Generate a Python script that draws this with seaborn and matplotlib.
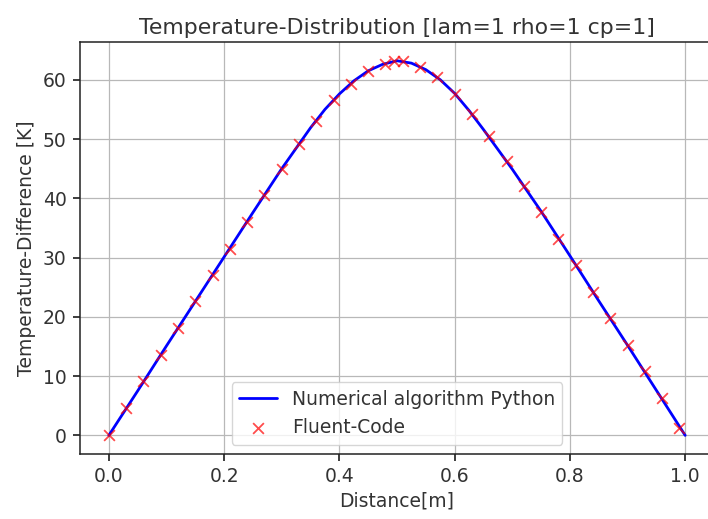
import numpy as np
import pandas as pd
import seaborn as sns
import matplotlib
matplotlib.use("Agg")
import matplotlib.pyplot as plt

# numerical solution (python)
lineX = [0.0, 0.05, 0.10, 0.15, 0.20, 0.25, 0.30, 0.35, 0.375, 0.40, 0.425, 0.45,
         0.475, 0.50, 0.525, 0.55, 0.575, 0.60, 0.625, 0.65, 0.70, 0.75, 0.80,
         0.85, 0.90, 0.95, 1.0]
lineT = [0.0, 7.5, 15.1, 22.6, 30.1, 37.6, 45.0, 51.9, 55.0, 57.6, 59.8, 61.5,
         62.6, 63.2, 62.8, 61.7, 60.0, 57.7, 54.8, 51.6, 44.9, 37.8, 30.3,
         22.7, 15.2, 7.6, 0.0]

# fluent reference points
fluentX = [0.0, 0.03, 0.06, 0.09, 0.12, 0.15, 0.18, 0.21, 0.24, 0.27, 0.30, 0.33,
           0.36, 0.39, 0.42, 0.45, 0.48, 0.495, 0.51, 0.54, 0.57, 0.60, 0.63,
           0.66, 0.69, 0.72, 0.75, 0.78, 0.81, 0.84, 0.87, 0.90, 0.93, 0.96, 0.99]
fluentT = [0.0, 4.6, 9.2, 13.6, 18.2, 22.7, 27.1, 31.5, 36.0, 40.5, 45.0, 49.2,
           53.1, 56.5, 59.3, 61.5, 62.7, 63.2, 63.1, 62.1, 60.4, 57.6, 54.2,
           50.5, 46.3, 42.1, 37.7, 33.2, 28.7, 24.2, 19.8, 15.3, 10.8, 6.3, 1.3]

TITLE = 'Temperature-Distribution [lam=1 rho=1 cp=1]'
XLABEL = 'Distance[m]'
YLABEL = 'Temperature-Difference [K]'

sns.set_theme(style='ticks', rc={
    'axes.grid': True,
    'grid.color': '#b8b8b8',
    'grid.linewidth': 0.9,
    'axes.edgecolor': '#222222',
    'axes.linewidth': 1.1,
    'xtick.major.size': 5,
    'ytick.major.size': 5,
    'xtick.major.pad': 4.5,
    'ytick.major.pad': 4.5,
    'font.size': 13.5,
    'axes.titlesize': 15.8,
    'axes.labelsize': 13.5,
    'xtick.labelsize': 13.5,
    'ytick.labelsize': 13.5,
    'legend.fontsize': 13.5,
    'text.color': '#333333',
    'axes.labelcolor': '#333333',
    'xtick.labelcolor': '#333333',
    'ytick.labelcolor': '#333333',
})
plt.rcParams['font.family'] = ['DejaVu Sans']

dfLine = pd.DataFrame({'x': lineX, 'T': lineT})
dfFluent = pd.DataFrame({'x': fluentX, 'T': fluentT})

fig = plt.figure(figsize=(7.08, 5.19), dpi=100)
ax = fig.add_axes([0.113, 0.125, 0.8955, 0.794])

sns.lineplot(data=dfLine, x='x', y='T', ax=ax, color='#0000ff', linewidth=2,
             label='Numerical algorithm Python')
sns.scatterplot(data=dfFluent, x='x', y='T', ax=ax, marker='x', color='#ff0000',
                s=60, linewidth=1.3, alpha=0.7, label='Fluent-Code', zorder=3)

ax.set_xticks([0.0, 0.2, 0.4, 0.6, 0.8, 1.0])
ax.set_yticks([0, 10, 20, 30, 40, 50, 60])
ax.set_title(TITLE)
ax.set_xlabel(XLABEL)
ax.set_ylabel(YLABEL, labelpad=5)
ax.legend(loc='lower center')

fig.savefig('out.png', dpi=100)
